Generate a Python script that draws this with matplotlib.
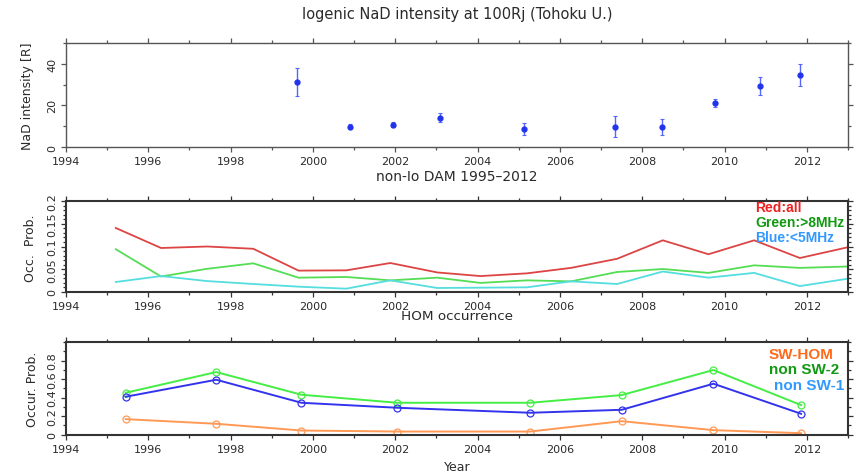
import matplotlib
matplotlib.use("Agg")
import matplotlib.pyplot as plt
import numpy as np
from matplotlib.ticker import MultipleLocator

# ---------------- data ----------------
nad_years = [1999.61, 2000.89, 2001.94, 2003.08, 2005.13, 2007.35, 2008.47, 2009.77, 2010.86, 2011.83]
nad_val = [31.3, 9.8, 10.6, 14.1, 8.5, 9.8, 9.5, 21.0, 29.1, 34.6]
nad_lo = [24.6, 8.5, 9.5, 12.0, 6.0, 5.0, 6.0, 19.0, 25.0, 29.4]
nad_hi = [38.1, 11.2, 12.0, 16.5, 11.5, 14.7, 13.3, 23.0, 33.5, 39.8]

dam_years = [1995.21, 1996.31, 1997.43, 1998.55, 1999.65, 2000.81, 2001.88, 2003.02,
             2004.07, 2005.20, 2006.27, 2007.39, 2008.50, 2009.61, 2010.72, 2011.83, 2012.98]
dam_all = [0.1407, 0.0967, 0.100, 0.095, 0.047, 0.0476, 0.0637, 0.043,
           0.035, 0.041, 0.053, 0.073, 0.1136, 0.083, 0.1136, 0.0747, 0.098]
dam_gt8 = [0.094, 0.034, 0.051, 0.063, 0.0315, 0.033, 0.0256, 0.0315,
           0.020, 0.0256, 0.0234, 0.044, 0.0505, 0.042, 0.0586, 0.053, 0.056]
dam_lt5 = [0.022, 0.035, 0.024, 0.0176, 0.0117, 0.0073, 0.0256, 0.0088,
           0.0095, 0.0103, 0.0234, 0.0176, 0.045, 0.0315, 0.042, 0.013, 0.029]

hom_years = [1995.45, 1997.65, 1999.72, 2002.05, 2005.28, 2007.50, 2009.73, 2011.86]
non_sw2 = [0.451, 0.675, 0.430, 0.343, 0.343, 0.426, 0.697, 0.318]
non_sw1 = [0.408, 0.592, 0.343, 0.289, 0.235, 0.267, 0.549, 0.224]
sw_hom = [0.166, 0.116, 0.043, 0.032, 0.032, 0.144, 0.047, 0.014]

x_ticks = [1994, 1996, 1998, 2000, 2002, 2004, 2006, 2008, 2010, 2012]

# ---------------- figure ----------------
W, H = 863, 477
fig = plt.figure(figsize=(W / 100, H / 100), dpi=100)
fig.patch.set_facecolor("white")


def rect(l, t, r, b):
    return [l / W, 1 - b / H, (r - l) / W, (b - t) / H]


TXT = "#2a2a2a"


def fix_ylabels(ax):
    for lab in ax.get_yticklabels():
        lab.set_va("center")
        lab.set_ha("right")


def style(ax, ylim, ymaj, ymin, frame_lw, frame_col):
    ax.set_xlim(1994, 2013)
    ax.set_ylim(*ylim)
    ax.set_xticks(x_ticks)
    ax.xaxis.set_minor_locator(MultipleLocator(1))
    ax.yaxis.set_major_locator(MultipleLocator(ymaj))
    ax.yaxis.set_minor_locator(MultipleLocator(ymin))
    for s in ax.spines.values():
        s.set_linewidth(frame_lw)
        s.set_color(frame_col)
    ax.tick_params(which="both", direction="out", top=True, right=True,
                   labeltop=False, labelright=False, colors=frame_col,
                   labelcolor=TXT, labelsize=8, width=0.9)
    ax.tick_params(which="major", length=3.5)
    ax.tick_params(which="minor", length=2.5)
    ax.tick_params(axis="x", pad=3)
    ax.tick_params(axis="y", labelrotation=90, pad=3)


# ---- top panel ----
ax1 = fig.add_axes(rect(66, 44, 848, 148))
style(ax1, (0, 50), 20, 10, 1.0, "#555555")
ax1.set_yticks([0, 20, 40])
yerr = [np.array(nad_val) - np.array(nad_lo), np.array(nad_hi) - np.array(nad_val)]
ax1.errorbar(nad_years, nad_val, yerr=yerr, fmt="o", color="#2233ee", ms=3.5,
             ecolor="#5566ff", elinewidth=1.0, capsize=1.5, capthick=0.8)
fix_ylabels(ax1)
fig.text(28 / W, 1 - 96 / H, "NaD intensity [R]", rotation=90, ha="center", va="center",
         fontsize=9, color=TXT)
fig.text(457 / W, 1 - 15 / H, "Iogenic NaD intensity at 100Rj (Tohoku U.)",
         ha="center", va="center", fontsize=10.5, color=TXT)

# ---- middle panel ----
ax2 = fig.add_axes(rect(66, 202, 848, 293))
style(ax2, (0, 0.2), 0.05, 0.01, 1.5, "#333333")
ax2.yaxis.set_major_formatter(matplotlib.ticker.FuncFormatter(
    lambda v, p: "0" if abs(v) < 1e-9 else ("%g" % v)))
ax2.plot(dam_years, dam_all, color="#dd4444", lw=1.3)
ax2.plot(dam_years, dam_gt8, color="#55dd55", lw=1.3)
ax2.plot(dam_years, dam_lt5, color="#55dde0", lw=1.3)
fix_ylabels(ax2)
fig.text(30 / W, 1 - 248 / H, "Occ.  Prob.", rotation=90, ha="center", va="center",
         fontsize=9, color=TXT)
fig.text(457 / W, 1 - 177 / H, "non-Io DAM 1995\u20132012",
         ha="center", va="center", fontsize=10, color=TXT)
fig.text(755 / W, 1 - 208 / H, "Red:all", color="#ee2222", fontsize=10,
         fontweight="bold", family="Liberation Sans", va="center", ha="left")
fig.text(755 / W, 1 - 223 / H, "Green:>8MHz", color="#119911", fontsize=10,
         fontweight="bold", family="Liberation Sans", va="center", ha="left")
fig.text(755 / W, 1 - 238 / H, "Blue:<5MHz", color="#3399ff", fontsize=10,
         fontweight="bold", family="Liberation Sans", va="center", ha="left")
fig.text(457 / W, 1 - 317 / H, "HOM occurrence", ha="center", va="center",
         fontsize=9.7, color=TXT)

# ---- bottom panel ----
ax3 = fig.add_axes(rect(66, 343, 848, 435.5))
style(ax3, (0, 1.0), 0.2, 0.1, 1.5, "#333333")
ax3.set_yticks([0, 0.2, 0.4, 0.6, 0.8])
ax3.set_yticklabels(["0", "0.2", "0.4", "0.6", "0.8"])
fix_ylabels(ax3)
mk = dict(marker="o", ms=5, mfc="none", mew=0.9)
ax3.plot(hom_years, non_sw2, color="#44ee44", lw=1.4, **mk)
ax3.plot(hom_years, non_sw1, color="#3333ee", lw=1.4, **mk)
ax3.plot(hom_years, sw_hom, color="#ff9955", lw=1.4, **mk)
fig.text(32 / W, 1 - 389 / H, "Occur. Prob.", rotation=90, ha="center", va="center",
         fontsize=9, color=TXT)
fig.text(457 / W, 1 - 468 / H, "Year", ha="center", va="center", fontsize=9, color=TXT)
fig.text(769 / W, 1 - 355 / H, "SW-HOM", color="#ff6a1a", fontsize=11,
         fontweight="bold", family="Liberation Sans", va="center", ha="left")
fig.text(769 / W, 1 - 370 / H, "non SW-2", color="#119911", fontsize=11,
         fontweight="bold", family="Liberation Sans", va="center", ha="left")
fig.text(774 / W, 1 - 386 / H, "non SW-1", color="#3399ff", fontsize=11,
         fontweight="bold", family="Liberation Sans", va="center", ha="left")

fig.savefig("out.png", dpi=100)
